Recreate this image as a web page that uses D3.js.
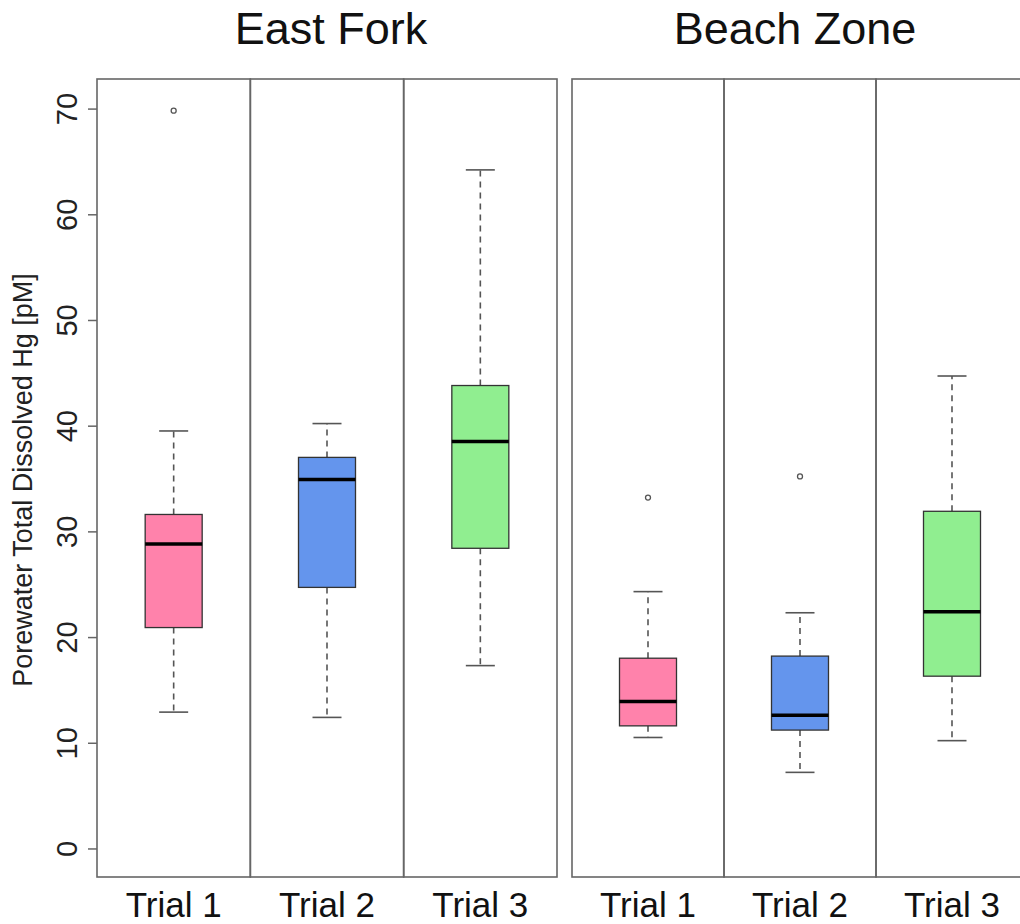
<!DOCTYPE html>
<html>
<head>
<meta charset="utf-8">
<script src="https://cdnjs.cloudflare.com/ajax/libs/d3/7.8.5/d3.min.js"></script>
<style>
  body { margin: 0; background: #fff; }
  svg { font-family: "Liberation Sans", Arial, sans-serif; }
</style>
</head>
<body>
<div id="chart"></div>
<script>
// sites and trials
var sites = ["East Fork", "Beach Zone"];
var trials = ["Trial 1", "Trial 2", "Trial 3"];
var colors = ["#ff82ab", "#6495ed", "#90ee90"];

// box stats, East Fork trials 1-3 then Beach Zone trials 1-3
var lowWhisker  = [12.9, 12.4, 17.3, 10.5,  7.2, 10.2];
var q1          = [20.9, 24.7, 28.4, 11.6, 11.2, 16.3];
var median      = [28.8, 34.9, 38.5, 13.9, 12.6, 22.4];
var q3          = [31.6, 37.0, 43.8, 18.0, 18.2, 31.9];
var highWhisker = [39.5, 40.2, 64.2, 24.3, 22.3, 44.7];
var outliers    = [[69.8], [], [], [33.2], [35.2], []];

var yTicks = [0, 10, 20, 30, 40, 50, 60, 70];

var width = 1020, height = 924;
var plotTop = 79, plotBottom = 877;

var svg = d3.select("#chart").append("svg")
    .attr("width", width)
    .attr("height", height);

var y = d3.scaleLinear().domain([-2.7, 72.8]).range([plotBottom, plotTop]);

// one band scale per site panel
var panelRanges = [[97, 557], [572, 1028]];
var xs = panelRanges.map(function(r) {
  return d3.scaleBand().domain(trials).range(r).paddingInner(0).paddingOuter(0);
});

// build box records
var boxes = [];
sites.forEach(function(s, si) {
  trials.forEach(function(t, ti) {
    var k = si * 3 + ti;
    boxes.push({site: si, trial: t, color: colors[ti],
      lo: lowWhisker[k], q1: q1[k], med: median[k], q3: q3[k], hi: highWhisker[k],
      out: outliers[k]});
  });
});

// facet frames
sites.forEach(function(s, si) {
  var x = xs[si];
  svg.append("g").selectAll("rect")
    .data(trials)
    .enter().append("rect")
      .attr("x", function(d) { return x(d); })
      .attr("y", plotTop)
      .attr("width", x.bandwidth())
      .attr("height", plotBottom - plotTop)
      .attr("fill", "none")
      .attr("stroke", "#666")
      .attr("stroke-width", 1.6);

  // site title over middle facet
  svg.append("text")
    .attr("x", x(trials[1]) + x.bandwidth() / 2 + (si === 0 ? 4 : -5))
    .attr("y", 44)
    .attr("text-anchor", "middle")
    .style("font-size", "45px")
    .style("fill", "#111")
    .text(s);

  // trial labels below
  svg.append("g").selectAll("text")
    .data(trials)
    .enter().append("text")
      .attr("x", function(d) { return x(d) + x.bandwidth() / 2; })
      .attr("y", 917)
      .attr("text-anchor", "middle")
      .style("font-size", "35px")
      .style("fill", "#111")
      .text(function(d) { return d; });
});

// boxes
var boxW = 57, capW = 29;
var g = svg.append("g");
boxes.forEach(function(b) {
  var x = xs[b.site];
  var cx = x(b.trial) + x.bandwidth() / 2;

  // whiskers
  [[b.q3, b.hi], [b.q1, b.lo]].forEach(function(w) {
    g.append("line")
      .attr("x1", cx).attr("x2", cx)
      .attr("y1", y(w[0])).attr("y2", y(w[1]))
      .attr("stroke", "#555").attr("stroke-width", 1.6)
      .attr("stroke-dasharray", "6,5");
    g.append("line")
      .attr("x1", cx - capW / 2).attr("x2", cx + capW / 2)
      .attr("y1", y(w[1])).attr("y2", y(w[1]))
      .attr("stroke", "#555").attr("stroke-width", 1.6);
  });

  g.append("rect")
    .attr("x", cx - boxW / 2)
    .attr("y", y(b.q3))
    .attr("width", boxW)
    .attr("height", y(b.q1) - y(b.q3))
    .attr("fill", b.color)
    .attr("stroke", "#333")
    .attr("stroke-width", 1.3);

  g.append("line")
    .attr("x1", cx - boxW / 2).attr("x2", cx + boxW / 2)
    .attr("y1", y(b.med)).attr("y2", y(b.med))
    .attr("stroke", "#000").attr("stroke-width", 3.5);

  b.out.forEach(function(o) {
    g.append("circle")
      .attr("cx", cx).attr("cy", y(o))
      .attr("r", 2.5)
      .attr("fill", "none")
      .attr("stroke", "#555").attr("stroke-width", 1.3);
  });
});

// y axis
var yAxis = svg.append("g")
    .attr("transform", "translate(97,0)")
    .call(d3.axisLeft(y).tickValues(yTicks).tickSize(9).tickSizeOuter(0));
yAxis.select(".domain").remove();
yAxis.selectAll(".tick line").attr("stroke", "#666").attr("stroke-width", 1.5);
yAxis.selectAll(".tick text")
    .attr("x", 0).attr("dy", null)
    .attr("transform", "translate(-20,0) rotate(-90)")
    .attr("text-anchor", "middle")
    .style("font-size", "29px")
    .style("font-family", "Liberation Sans, Arial, sans-serif")
    .style("fill", "#222");

// y axis title
svg.append("text")
    .attr("transform", "translate(32,480) rotate(-90)")
    .attr("text-anchor", "middle")
    .style("font-size", "27px")
    .style("fill", "#222")
    .text("Porewater Total Dissolved Hg [pM]");
</script>
</body>
</html>
